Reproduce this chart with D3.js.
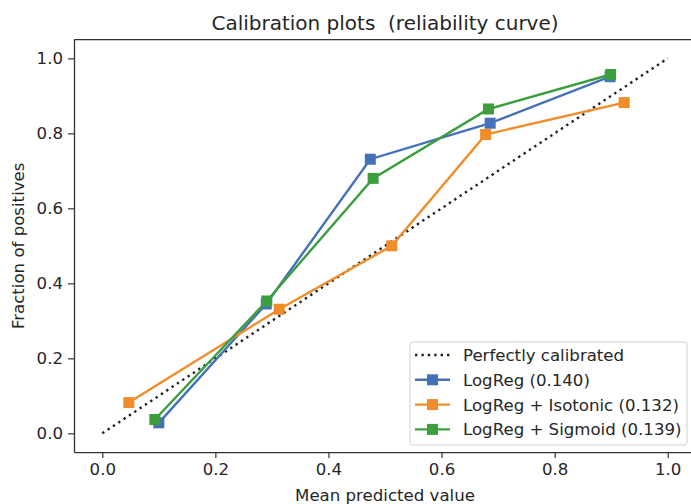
<!DOCTYPE html>
<html>
<head>
<meta charset="utf-8">
<script src="https://cdn.jsdelivr.net/npm/d3@7"></script>
<style>
  body { margin: 0; background: #fff; }
  text { font-family: "DejaVu Sans", sans-serif; fill: #262626; white-space: pre; }
</style>
</head>
<body>
<div id="chart"></div>
<script>
// mean predicted value (x) and fraction of positives (y) for each model
const logregX = [0.100, 0.290, 0.474, 0.686, 0.898];
const logregY = [0.028, 0.345, 0.731, 0.827, 0.951];
const isotonicX = [0.047, 0.313, 0.512, 0.678, 0.923];
const isotonicY = [0.082, 0.331, 0.500, 0.797, 0.882];
const sigmoidX = [0.093, 0.291, 0.479, 0.683, 0.899];
const sigmoidY = [0.037, 0.353, 0.680, 0.865, 0.957];
const perfectX = [0, 1];
const perfectY = [0, 1];
const seriesNames = ["LogReg (0.140)", "LogReg + Isotonic (0.132)", "LogReg + Sigmoid (0.139)"];
const tickValues = [0, 0.2, 0.4, 0.6, 0.8, 1.0];

const width = 691;
const height = 504;
const colors = ["#4472b8", "#f08c2a", "#3c9e3c"];
const fontSize = "16.6px";

const svg = d3
  .select("#chart")
  .append("svg")
  .attr("width", width)
  .attr("height", height);

const x = d3.scaleLinear().domain([-0.05, 1.05]).range([74, 696]);
const y = d3.scaleLinear().domain([-0.05, 1.05]).range([452.1, 39.6]);

const line = d3
  .line()
  .x((d) => x(d[0]))
  .y((d) => y(d[1]));

const zip = (a, b) => a.map((v, i) => [v, b[i]]);

// perfectly calibrated diagonal
svg
  .append("path")
  .attr("d", line(zip(perfectX, perfectY)))
  .attr("fill", "none")
  .attr("stroke", "#222")
  .attr("stroke-width", 2.4)
  .attr("stroke-dasharray", "2.4,4");

const series = [
  zip(logregX, logregY),
  zip(isotonicX, isotonicY),
  zip(sigmoidX, sigmoidY),
];

series.forEach((pts, i) => {
  svg
    .append("path")
    .attr("d", line(pts))
    .attr("fill", "none")
    .attr("stroke", colors[i])
    .attr("stroke-width", 2.4);
  svg
    .selectAll(".m" + i)
    .data(pts)
    .join("rect")
    .attr("class", "m" + i)
    .attr("x", (d) => x(d[0]) - 5.5)
    .attr("y", (d) => y(d[1]) - 5.5)
    .attr("width", 11)
    .attr("height", 11)
    .attr("fill", colors[i]);
});

// axes
const xAxis = svg
  .append("g")
  .attr("transform", `translate(0,${y(-0.05)})`)
  .call(d3.axisBottom(x).tickValues(tickValues).tickFormat(d3.format(".1f")).tickSize(6).tickSizeOuter(0).tickPadding(5));
const yAxis = svg
  .append("g")
  .attr("transform", `translate(${x(-0.05)},0)`)
  .call(d3.axisLeft(y).tickValues(tickValues).tickFormat(d3.format(".1f")).tickSize(6).tickSizeOuter(0).tickPadding(5));

[xAxis, yAxis].forEach((g) => {
  g.select(".domain").attr("stroke", "#333").attr("stroke-width", 1.3);
  g.selectAll(".tick line").attr("stroke", "#333").attr("stroke-width", 1.2);
  g.selectAll(".tick text").style("font-size", fontSize).attr("fill", "#262626");
});
// top spine
svg
  .append("line")
  .attr("x1", x(-0.05))
  .attr("x2", x(1.05))
  .attr("y1", y(1.05))
  .attr("y2", y(1.05))
  .attr("stroke", "#333")
  .attr("stroke-width", 1.3);

// titles
svg
  .append("text")
  .attr("x", (x(-0.05) + x(1.05)) / 2)
  .attr("y", 30)
  .attr("text-anchor", "middle")
  .style("font-size", "20px")
  .text("Calibration plots  (reliability curve)");

svg
  .append("text")
  .attr("x", (x(-0.05) + x(1.05)) / 2)
  .attr("y", 501)
  .attr("text-anchor", "middle")
  .style("font-size", fontSize)
  .text("Mean predicted value");

svg
  .append("text")
  .attr("transform", `translate(24,${(y(-0.05) + y(1.05)) / 2}) rotate(-90)`)
  .attr("text-anchor", "middle")
  .style("font-size", fontSize)
  .text("Fraction of positives");

// legend
const legend = svg.append("g").attr("transform", "translate(410,342)");
legend
  .append("rect")
  .attr("width", 277)
  .attr("height", 103)
  .attr("rx", 3)
  .attr("fill", "rgba(255,255,255,0.8)")
  .attr("stroke", "#d0d0d0");

const legendItems = [
  { name: "Perfectly calibrated", color: "#222", dotted: true },
  ...seriesNames.map((n, i) => ({ name: n, color: colors[i], dotted: false })),
];

legendItems.forEach((d, i) => {
  const cy = 13 + i * 24.8;
  const row = legend.append("g").attr("transform", `translate(0,${cy})`);
  row
    .append("line")
    .attr("x1", 5)
    .attr("x2", 40)
    .attr("stroke", d.color)
    .attr("stroke-width", 2.4)
    .attr("stroke-dasharray", d.dotted ? "2.4,4" : null);
  if (!d.dotted) {
    row
      .append("rect")
      .attr("x", 17)
      .attr("y", -5.5)
      .attr("width", 11)
      .attr("height", 11)
      .attr("fill", d.color);
  }
  row
    .append("text")
    .attr("x", 53)
    .attr("y", 6)
    .style("font-size", fontSize)
    .text(d.name);
});
</script>
</body>
</html>
